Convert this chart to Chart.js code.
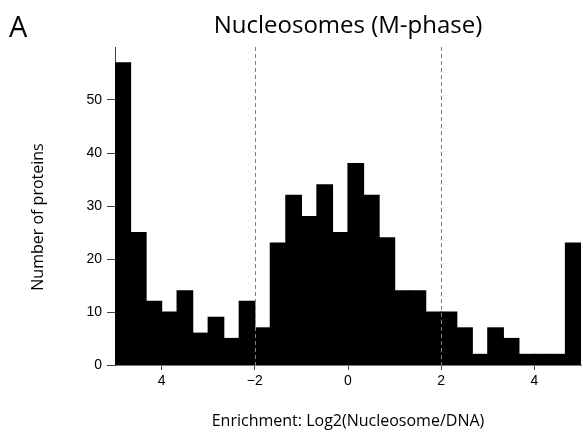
<!DOCTYPE html>
<html>
<head>
<meta charset="utf-8">
<script src="https://cdn.jsdelivr.net/npm/chart.js@4"></script>
<style>
  html, body { margin: 0; padding: 0; background: #fff; }
  #wrap { width: 583px; height: 438px; position: relative; }
</style>
</head>
<body>
<div id="wrap"><canvas id="chart"></canvas></div>
<script>
// histogram: 30 bins of width 1/3 from -5 to 5
const binStart = -5;
const binWidth = 1 / 3;
const counts = [57, 25, 12, 10, 14, 6, 9, 5, 12, 7, 23, 32, 28, 34, 25, 38, 32, 24, 14, 14, 10, 10, 7, 2, 7, 5, 2, 2, 2, 23];
const xTickValues = [-4, -2, 0, 2, 4];
const xTickLabels = ["4", "\u22122", "0", "2", "4"];
const yTickValues = [0, 10, 20, 30, 40, 50];
const cutoffs = [-2, 2];

const points = counts.map((c, i) => ({ x: binStart + binWidth * (i + 0.5), y: c }));

const cutoffLines = {
  id: "cutoffLines",
  afterDatasetsDraw(chart) {
    const { ctx, chartArea, scales } = chart;
    ctx.save();
    ctx.strokeStyle = "#808080";
    ctx.lineWidth = 1;
    ctx.setLineDash([4, 3]);
    cutoffs.forEach(v => {
      const x = Math.round(scales.x.getPixelForValue(v)) + 0.5;
      ctx.beginPath();
      ctx.moveTo(x, chartArea.top);
      ctx.lineTo(x, chartArea.bottom);
      ctx.stroke();
    });
    ctx.restore();
  }
};

// titles and panel letter, placed around the plot area
const labels = {
  id: "labels",
  afterDraw(chart) {
    const { ctx, chartArea } = chart;
    const midX = (chartArea.left + chartArea.right) / 2;
    ctx.save();
    ctx.fillStyle = "#000";
    ctx.textBaseline = "alphabetic";

    ctx.font = "29px 'Open Sans'";
    ctx.textAlign = "left";
    ctx.fillText("A", 9, 37);

    ctx.font = "24px 'Open Sans'";
    ctx.textAlign = "center";
    ctx.fillText("Nucleosomes (M-phase)", midX, 33);

    ctx.font = "16px 'Open Sans'";
    ctx.textBaseline = "middle";
    ctx.fillText("Enrichment: Log2(Nucleosome/DNA)", midX, 421);

    ctx.translate(38, 217);
    ctx.rotate(-Math.PI / 2);
    ctx.fillText("Number of proteins", 0, 0);
    ctx.restore();
  }
};

new Chart(document.getElementById("chart"), {
  type: "bar",
  data: {
    datasets: [{
      data: points,
      backgroundColor: "#000",
      borderWidth: 0,
      inflateAmount: 0.6,
      barPercentage: 1.0,
      categoryPercentage: 1.0
    }]
  },
  plugins: [cutoffLines, labels],
  options: {
    responsive: true,
    maintainAspectRatio: false,
    animation: false,
    layout: { padding: { top: 47, right: 2, left: 0, bottom: 0 } },
    plugins: {
      legend: { display: false },
      tooltip: { enabled: false }
    },
    scales: {
      x: {
        type: "linear",
        min: -5,
        max: 5,
        offset: false,
        afterBuildTicks: axis => { axis.ticks = xTickValues.map(v => ({ value: v })); },
        afterFit: axis => { axis.height = 73; },
        ticks: {
          color: "#000",
          font: { family: "'Liberation Sans'", size: 14 },
          padding: 3,
          callback: v => xTickLabels[xTickValues.indexOf(v)]
        },
        grid: { offset: false, drawOnChartArea: false, drawTicks: true, tickLength: 5, color: "#444" },
        border: { display: true, color: "#777" }
      },
      y: {
        min: 0,
        max: 60,
        afterBuildTicks: axis => { axis.ticks = yTickValues.map(v => ({ value: v })); },
        afterFit: axis => { axis.width = 115; },
        ticks: {
          color: "#000",
          font: { family: "'Liberation Sans'", size: 14 },
          padding: 5
        },
        grid: { drawOnChartArea: false, drawTicks: true, tickLength: 8, color: "#444" },
        border: { display: true, color: "#444" }
      }
    }
  }
});
</script>
</body>
</html>
